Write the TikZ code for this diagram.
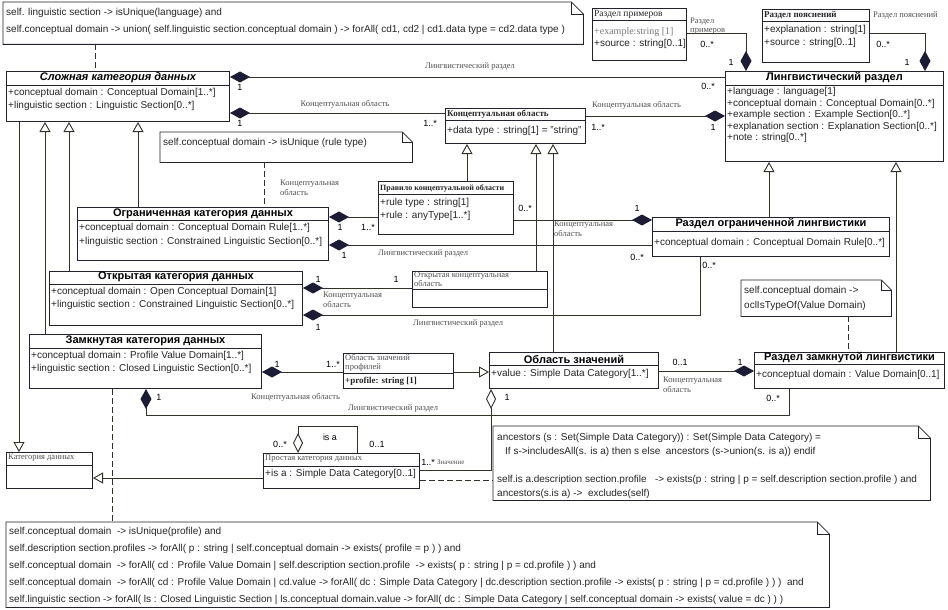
\documentclass[tikz,border=0pt]{standalone}
\usepackage{fontspec}
\setmainfont{Liberation Serif}
\setsansfont{Liberation Sans}
\usetikzlibrary{arrows.meta}
\definecolor{lc}{RGB}{50,50,40}
\definecolor{bc}{RGB}{35,35,45}
\definecolor{dia}{RGB}{28,28,52}
\definecolor{lbl}{RGB}{80,80,80}
\definecolor{gtx}{RGB}{120,120,120}
\newcommand\divline[2]{\draw[bc,line width=0.8pt] ([yshift=-#2pt]#1.north west) -- ([yshift=-#2pt]#1.north east);}
\newcommand\mynote[2]{%
  \draw[bc,line width=0.8pt,fill=white] (#1.north west) -- ([xshift=-#2pt]#1.north east) -- ([yshift=-#2pt]#1.north east) -- (#1.south east) -- (#1.south west) -- cycle;
  \draw[bc,line width=0.8pt] ([xshift=-#2pt]#1.north east) -- ([xshift=-#2pt,yshift=-#2pt]#1.north east) -- ([yshift=-#2pt]#1.north east);}
\begin{document}
\begin{tikzpicture}[x=1pt,y=-1pt,
  box/.style={draw=bc,line width=1pt,anchor=north west,inner sep=0pt,fill=white},
  nbox/.style={anchor=north west,inner sep=0pt},
  con/.style={draw=lc,line width=0.9pt},
  comp/.style={con,{Diamond[length=20pt,width=11pt,color=dia]}-},
  agg/.style={con,{Diamond[open,length=20pt,width=10pt,fill=white]}-},
  gen/.style={con,-{Triangle[open,length=10pt,width=11pt,fill=white]}},
  dep/.style={con,dash pattern=on 6pt off 3pt},
  hdr/.style={font=\sffamily\bfseries\fontsize{11}{12}\selectfont,inner sep=0pt},
  att/.style={font=\sffamily\fontsize{10}{11}\selectfont,anchor=west,inner sep=0pt,text=black!85},
  shdr/.style={font=\rmfamily\bfseries\fontsize{9}{10}\selectfont,anchor=west,inner sep=0pt,text=black!85},
  rhdr/.style={font=\rmfamily\fontsize{8.5}{9}\selectfont,anchor=west,inner sep=0pt,text=lbl,align=left},
  lab/.style={font=\rmfamily\fontsize{8.5}{9.5}\selectfont,text=lbl,inner sep=0pt,anchor=west,align=left},
  mult/.style={font=\sffamily\fontsize{9}{10}\selectfont,inner sep=0pt},
  ntxt/.style={font=\sffamily\fontsize{10}{11}\selectfont,anchor=west,inner sep=0pt,text=black!85},
  btxt/.style={font=\sffamily\fontsize{10}{11}\selectfont,anchor=west,inner sep=0pt,text=black!85}]
\fill[white] (0,0) rectangle (948,610);
\useasboundingbox (0,0) rectangle (948,610);

% ---------- notes ----------
\node[nbox,minimum width=580pt,minimum height=42pt] (n1) at (3,2) {};
\mynote{n1}{12}
\node[ntxt] (n1a) at (6,13) {self. linguistic section -> isUnique(language) and};
\node[ntxt] (n1b) at (6,30) {self.conceptual domain -> union( self.linguistic section.conceptual domain ) -> forAll( cd1, cd2 | cd1.data type = cd2.data type )};

\node[nbox,minimum width=252pt,minimum height=30pt] (n2) at (160,132) {};
\mynote{n2}{10}
\node[ntxt] (n2a) at (163,143) {self.conceptual domain -> isUnique (rule type)};

\node[nbox,minimum width=150pt,minimum height=36pt] (n3) at (741,280) {};
\mynote{n3}{10}
\node[ntxt] (n3a) at (744,291) {self.conceptual domain ->};
\node[ntxt] (n3b) at (744,306) {oclIsTypeOf(Value Domain)};

\node[nbox,minimum width=437pt,minimum height=74pt] (n4) at (493,426) {};
\mynote{n4}{12}
\node[btxt] (n4a) at (497,438) {ancestors (s : Set(Simple Data Category)) : Set(Simple Data Category) =};
\node[btxt] (n4b) at (505,452) {If s->includesAll(s. is a) then s else\ \ ancestors (s->union(s. is a)) endif};
\node[btxt] (n4c) at (497,480) {self.is a.description section.profile\ \ \ -> exists(p : string | p = self.description section.profile ) and};
\node[btxt] (n4d) at (497,494) {ancestors(s.is a) ->\ \ excludes(self)};

\node[nbox,minimum width=823pt,minimum height=85pt] (n5) at (6,522) {};
\mynote{n5}{12}
\node[btxt] (n5a) at (9,532) {self.conceptual domain\ \ -> isUnique(profile) and};
\node[btxt] (n5b) at (9,549) {self.description section.profiles -> forAll( p : string | self.conceptual domain -> exists( profile = p ) ) and};
\node[btxt] (n5c) at (9,566) {self.conceptual domain\ \ -> forAll( cd : Profile Value Domain | self.description section.profile\ \ -> exists( p : string | p = cd.profile ) ) and};
\node[btxt] (n5d) at (9,583) {self.conceptual domain\ \ -> forAll( cd : Profile Value Domain | cd.value -> forAll( dc : Simple Data Category | dc.description section.profile -> exists( p : string | p = cd.profile ) ) )\ \ and};
\node[btxt] (n5e) at (9,600) {self.linguistic section -> forAll( ls : Closed Linguistic Section | ls.conceptual domain.value -> forAll( dc : Simple Data Category | self.conceptual domain -> exists( value = dc ) ) )};

% ---------- classes ----------
\node[box,minimum width=223pt,minimum height=50pt] (slozh) at (6,71) {};
\node[hdr,font=\sffamily\bfseries\itshape\fontsize{11}{12}\selectfont] (slozhH) at ([yshift=-7pt]slozh.north) {Сложная категория данных};
\divline{slozh}{14}
\node[att] (slozhA1) at ([xshift=2pt,yshift=-22pt]slozh.north west) {+conceptual domain : Conceptual Domain[1..*]};
\node[att] (slozhA2) at ([xshift=2pt,yshift=-35pt]slozh.north west) {+linguistic section : Linguistic Section[0..*]};

\node[box,minimum width=218pt,minimum height=90pt] (lingv) at (725,71) {};
\node[hdr] (lingvH) at ([yshift=-7pt]lingv.north) {Лингвистический раздел};
\divline{lingv}{14}
\node[att] (lingvA1) at ([xshift=2pt,yshift=-21pt]lingv.north west) {+language : language[1]};
\node[att] (lingvA2) at ([xshift=2pt,yshift=-32.5pt]lingv.north west) {+conceptual domain : Conceptual Domain[0..*]};
\node[att] (lingvA3) at ([xshift=2pt,yshift=-44pt]lingv.north west) {+example section : Example Section[0..*]};
\node[att] (lingvA4) at ([xshift=2pt,yshift=-55.5pt]lingv.north west) {+explanation section : Explanation Section[0..*]};
\node[att] (lingvA5) at ([xshift=2pt,yshift=-67pt]lingv.north west) {+note : string[0..*]};

\node[box,minimum width=94pt,minimum height=52pt] (primer) at (592,8) {};
\node[shdr,font=\rmfamily\fontsize{9.5}{10}\selectfont] (primerH) at ([xshift=2pt,yshift=-6pt]primer.north west) {Раздел примеров};
\divline{primer}{12}
\node[att,font=\rmfamily\fontsize{10}{11}\selectfont,text=gtx] (primerA1) at ([xshift=2pt,yshift=-24pt]primer.north west) {+example:string [1]};
\node[att] (primerA2) at ([xshift=2pt,yshift=-36pt]primer.north west) {+source : string[0..1]};

\node[box,minimum width=107pt,minimum height=53pt] (poyasn) at (762,9) {};
\node[shdr] (poyasnH) at ([xshift=2pt,yshift=-6pt]poyasn.north west) {Раздел пояснений};
\divline{poyasn}{12}
\node[att] (poyasnA1) at ([xshift=2pt,yshift=-21pt]poyasn.north west) {+explanation : string[1]};
\node[att] (poyasnA2) at ([xshift=2pt,yshift=-34pt]poyasn.north west) {+source : string[0..1]};

\node[box,minimum width=140pt,minimum height=35pt] (konc) at (445,108) {};
\node[shdr] (koncH) at ([xshift=2pt,yshift=-6pt]konc.north west) {Концептуальная область};
\divline{konc}{12}
\node[att] (koncA1) at ([xshift=2pt,yshift=-23pt]konc.north west) {+data type : string[1] = "string"};

\node[box,minimum width=135pt,minimum height=53pt] (pravilo) at (378,181) {};
\node[shdr,font=\rmfamily\bfseries\fontsize{8}{9}\selectfont] (praviloH) at ([xshift=2pt,yshift=-7pt]pravilo.north west) {Правило концептуальной области};
\divline{pravilo}{13}
\node[att] (praviloA1) at ([xshift=2pt,yshift=-22pt]pravilo.north west) {+rule type : string[1]};
\node[att] (praviloA2) at ([xshift=2pt,yshift=-35pt]pravilo.north west) {+rule : anyType[1..*]};

\node[box,minimum width=251pt,minimum height=53pt] (ogr) at (77,207) {};
\node[hdr] (ogrH) at ([yshift=-7pt]ogr.north) {Ограниченная категория данных};
\divline{ogr}{13}
\node[att] (ogrA1) at ([xshift=2pt,yshift=-21pt]ogr.north west) {+conceptual domain : Conceptual Domain Rule[1..*]};
\node[att] (ogrA2) at ([xshift=2pt,yshift=-35pt]ogr.north west) {+linguistic section : Constrained Linguistic Section[0..*]};

\node[box,minimum width=253pt,minimum height=54pt] (otkr) at (49,271) {};
\node[hdr] (otkrH) at ([yshift=-6pt]otkr.north) {Открытая категория данных};
\divline{otkr}{13}
\node[att] (otkrA1) at ([xshift=2pt,yshift=-21pt]otkr.north west) {+conceptual domain : Open Conceptual Domain[1]};
\node[att] (otkrA2) at ([xshift=2pt,yshift=-34pt]otkr.north west) {+linguistic section : Constrained Linguistic Section[0..*]};

\node[box,minimum width=135pt,minimum height=36pt] (otkrK) at (412,271) {};
\node[rhdr] (otkrKH) at ([xshift=2pt,yshift=-8.5pt]otkrK.north west) {Открытая концептуальная\\область};
\divline{otkrK}{18}

\node[box,minimum width=232pt,minimum height=54pt] (zamk) at (29,334) {};
\node[hdr] (zamkH) at ([yshift=-7pt]zamk.north) {Замкнутая категория данных};
\divline{zamk}{14}
\node[att] (zamkA1) at ([xshift=2pt,yshift=-22pt]zamk.north west) {+conceptual domain : Profile Value Domain[1..*]};
\node[att] (zamkA2) at ([xshift=2pt,yshift=-35pt]zamk.north west) {+linguistic section : Closed Linguistic Section[0..*]};

\node[box,minimum width=110pt,minimum height=35pt] (profil) at (343,353) {};
\node[rhdr] (profilH) at ([xshift=2pt,yshift=-10pt]profil.north west) {Область значений\\профилей};
\divline{profil}{20}
\node[att,font=\rmfamily\bfseries\fontsize{9}{10}\selectfont] (profilA1) at ([xshift=2pt,yshift=-28pt]profil.north west) {+profile: string [1]};

\node[box,minimum width=169pt,minimum height=36pt] (oblZn) at (489,352) {};
\node[hdr] (oblZnH) at ([yshift=-7pt]oblZn.north) {Область значений};
\divline{oblZn}{13}
\node[att] (oblZnA1) at ([xshift=2pt,yshift=-22pt]oblZn.north west) {+value : Simple Data Category[1..*]};

\node[box,minimum width=237pt,minimum height=39pt] (razOgr) at (652,217) {};
\node[hdr] (razOgrH) at ([yshift=-7pt]razOgr.north) {Раздел ограниченной лингвистики};
\divline{razOgr}{14}
\node[att] (razOgrA1) at ([xshift=2pt,yshift=-26pt]razOgr.north west) {+conceptual domain : Conceptual Domain Rule[0..*]};

\node[box,minimum width=190pt,minimum height=36pt] (razZam) at (754,352) {};
\node[hdr] (razZamH) at ([yshift=-6pt]razZam.north) {Раздел замкнутой лингвистики};
\divline{razZam}{12}
\node[att] (razZamA1) at ([xshift=2pt,yshift=-23pt]razZam.north west) {+conceptual domain : Value Domain[0..1]};

\node[box,minimum width=86pt,minimum height=36pt] (kat) at (6,452) {};
\node[rhdr] (katH) at ([xshift=2pt,yshift=-6pt]kat.north west) {Категория данных};
\divline{kat}{13}

\node[box,minimum width=156pt,minimum height=35pt] (prost) at (263,453) {};
\node[rhdr] (prostH) at ([xshift=2pt,yshift=-6pt]prost.north west) {Простая категория данных};
\divline{prost}{13}
\node[att] (prostA1) at ([xshift=2pt,yshift=-21pt]prost.north west) {+is a : Simple Data Category[0..1]};

% ---------- compositions ----------
\draw[comp] (slozh.east |- 0,77) -- (lingv.west |- 0,77);
\draw[comp] (slozh.east |- 0,113) -- (konc.west |- 0,113);
\draw[comp] (lingv.west |- 0,116) -- (konc.east |- 0,116);
\draw[comp] (lingv.north -| 746,0) |- (primer.east |- 0,33);
\draw[comp] (lingv.north -| 925,0) |- (poyasn.east |- 0,33);
\draw[comp] (ogr.east |- 0,217) -- (pravilo.west |- 0,217);
\draw[comp] (ogr.east |- 0,245) -- (razOgr.west |- 0,245);
\draw[comp] (razOgr.west |- 0,220) -- (pravilo.east |- 0,220);
\draw[comp] (otkr.east |- 0,288) -- (otkrK.west |- 0,288);
\draw[comp] (otkr.east |- 0,315) -| (razOgr.south -| 700,0);
\draw[comp] (zamk.east |- 0,372) -- (profil.west |- 0,372);
\coordinate (zz) at (146,415);
\draw[comp] (zamk.south -| zz) -- (zz) -| (razZam.south -| 789,0);
\draw[comp] (razZam.west |- 0,371) -- (oblZn.east |- 0,371);
\draw[agg] (oblZn.south -| 491,0) |- (prost.east |- 0,470);
\coordinate (isa) at (357,426);
\draw[agg] (prost.north -| 298,0) |- (isa) -- (prost.north -| isa);

% ---------- generalizations ----------
\draw[gen] (ogr.north -| 138,0) -- (slozh.south -| 138,0);
\draw[gen] (otkr.north -| 69,0) -- (slozh.south -| 69,0);
\draw[gen] (zamk.north -| 45,0) -- (slozh.south -| 45,0);
\draw[gen] (slozh.south -| 19,0) -- (kat.north -| 19,0);
\draw[gen] (prost.west |- 0,478) -- (kat.east |- 0,478);
\draw[gen] (pravilo.north -| 467,0) -- (konc.south -| 467,0);
\draw[gen] (otkrK.north -| 536,0) -- (konc.south -| 536,0);
\draw[gen] (oblZn.north -| 553,0) -- (konc.south -| 553,0);
\draw[gen] (razOgr.north -| 769,0) -- (lingv.south -| 769,0);
\draw[gen] (razZam.north -| 896,0) -- (lingv.south -| 896,0);
\draw[gen] (profil.east |- 0,372) -- (oblZn.west |- 0,372);

% ---------- dependencies ----------
\draw[dep] (n1.south -| 95,0) -- (slozh.north -| 95,0);
\draw[dep] (n2.south -| 264,0) -- (ogr.north -| 264,0);
\draw[dep] (n3.south -| 848,0) -- (razZam.north -| 848,0);
\draw[dep] (prost.east |- 0,480) -- (n4.west |- 0,480);
\draw[dep] (zamk.south -| 112,0) -- (n5.north -| 112,0);

% ---------- multiplicities ----------
\node[mult] (m1) at (240,87) {1};
\node[mult] (m2) at (708,86) {0..*};
\node[mult] (m3) at (240,123) {1};
\node[mult] (m4) at (430,123) {1..*};
\node[mult] (m5) at (598,127) {1..*};
\node[mult] (m6) at (713,127) {1};
\node[mult] (m7) at (707,44) {0..*};
\node[mult] (m8) at (731,62) {1};
\node[mult] (m9) at (883,44) {0..*};
\node[mult] (m10) at (907,62) {1};
\node[mult] (m11) at (340,227) {1};
\node[mult] (m12) at (368,227) {1..*};
\node[mult] (m13) at (344,255) {1};
\node[mult] (m14) at (637,257) {0..*};
\node[mult] (m15) at (525,208) {0..*};
\node[mult] (m16) at (637,208) {1};
\node[mult] (m17) at (318,279) {1};
\node[mult] (m18) at (396,279) {1};
\node[mult] (m19) at (318,327) {1};
\node[mult] (m20) at (709,265) {0..*};
\node[mult] (m21) at (277,364) {1};
\node[mult] (m22) at (333,364) {1..*};
\node[mult] (m23) at (159,397) {1};
\node[mult] (m24) at (773,398) {0..*};
\node[mult] (m25) at (680,362) {0..1};
\node[mult] (m26) at (740,362) {1};
\node[mult] (m27) at (507,397) {1};
\node[mult] (m28) at (428,462) {1..*};
\node[mult] (m29) at (280,444) {0..*};
\node[mult] (m30) at (377,444) {0..1};
\node[mult] (isaL) at (330,437) {is a};

% ---------- role labels ----------
\node[lab,anchor=center] (l1) at (470,66) {Лингвистический раздел};
\node[lab,anchor=center] (l2) at (345,104) {Концептуальная область};
\node[lab] (l3) at (592,105) {Концептуальная область};
\node[lab] (l4) at (690,26) {Раздел\\примеров};
\node[lab] (l5) at (873,15) {Раздел пояснений};
\node[lab] (l6) at (280,188) {Концептуальная\\область};
\node[lab] (l7) at (378,253) {Лингвистический раздел};
\node[lab] (l8) at (554,229) {Концептуальная\\область};
\node[lab] (l9) at (323,300) {Концептуальная\\область};
\node[lab] (l10) at (413,323) {Лингвистический раздел};
\node[lab] (l11) at (251,397) {Концептуальная область};
\node[lab] (l12) at (348,408) {Лингвистический раздел};
\node[lab] (l13) at (663,385) {Концептуальная\\область};
\node[lab,font=\rmfamily\fontsize{7}{8}\selectfont] (l14) at (437,462) {Значение};
\end{tikzpicture}
\end{document}
